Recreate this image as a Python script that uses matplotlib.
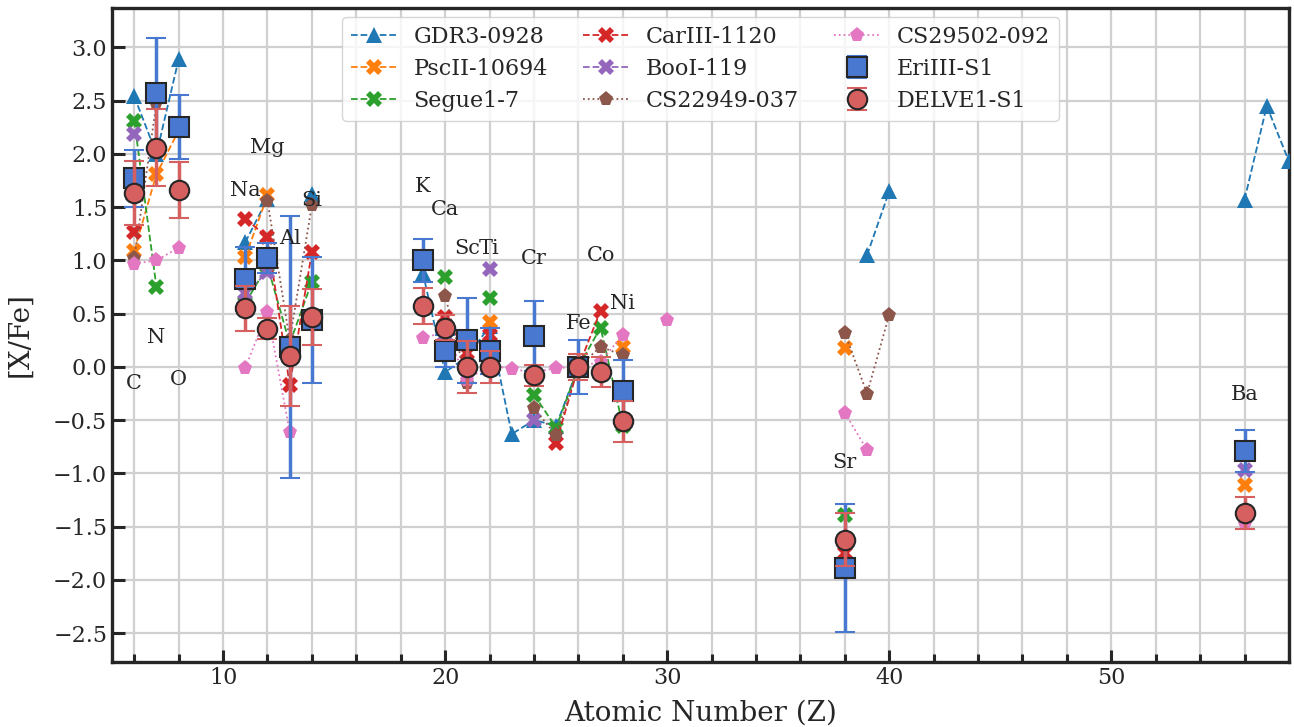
import numpy as np
import matplotlib
matplotlib.use("Agg")
import matplotlib.pyplot as plt
from matplotlib.ticker import MultipleLocator

nan = np.nan

# elements and atomic numbers
elements = ['C', 'N', 'O', 'Na', 'Mg', 'Al', 'Si', 'K', 'Ca', 'Sc', 'Ti', 'V', 'Cr', 'Mn', 'Fe', 'Co', 'Ni', 'Zn', 'Sr', 'Y', 'Zr', 'Ba', 'La', 'Ce']
atomic_z = [6, 7, 8, 11, 12, 13, 14, 19, 20, 21, 22, 23, 24, 25, 26, 27, 28, 30, 38, 39, 40, 56, 57, 58]

# [X/Fe] of the comparison stars (nan = not measured)
gdr3_0928 = [2.54, 2.00, 2.89, 1.17, 1.58, nan, 1.62, 0.88, -0.05, 0.10, 0.38, -0.63, -0.50, -0.55, 0.00, nan, nan, nan, nan, 1.05, 1.65, 1.57, 2.45, 1.93]
pscii_10694 = [1.09, 1.81, 2.22, 1.03, 1.61, nan, nan, nan, nan, nan, 0.42, nan, nan, nan, nan, nan, 0.19, nan, 0.18, nan, nan, -1.11, nan, nan]
segue1_7 = [2.31, 0.75, nan, 0.60, 0.95, 0.22, 0.80, nan, 0.84, nan, 0.65, nan, -0.26, -0.57, 0.00, 0.37, -0.55, nan, -1.39, nan, nan, nan, nan, nan]
cariii_1120 = [1.27, nan, nan, 1.39, 1.22, -0.17, 1.08, nan, 0.47, 0.13, 0.30, nan, nan, -0.71, 0.00, 0.53, nan, nan, -1.75, nan, nan, nan, nan, nan]
booi_119 = [2.19, nan, nan, 0.69, 0.89, nan, nan, nan, 0.30, nan, 0.92, nan, -0.50, nan, nan, nan, nan, nan, nan, nan, nan, -0.97, nan, nan]
cs22949_037 = [1.02, 2.48, nan, nan, 1.56, 0.25, 1.52, nan, 0.67, -0.15, nan, nan, -0.39, -0.64, 0.00, 0.19, 0.11, nan, 0.32, -0.25, 0.49, nan, nan, nan]
cs29502_092 = [0.97, 1.00, 1.12, -0.01, 0.52, -0.61, nan, 0.27, 0.33, -0.12, 0.02, -0.02, -0.05, -0.01, 0.00, 0.05, 0.30, 0.44, -0.43, -0.78, nan, -1.47, nan, nan]

# program stars with uncertainties
eriiii_s1 = [1.77, 2.57, 2.25, 0.83, 1.02, 0.19, 0.44, 1.00, 0.15, 0.25, 0.15, nan, 0.29, nan, 0.00, nan, -0.23, nan, -1.89, nan, nan, -0.79, nan, nan]
eriiii_s1_err = [0.27, 0.52, 0.30, 0.30, 0.14, 1.23, 0.59, 0.20, 0.15, 0.40, 0.22, nan, 0.33, nan, 0.25, nan, 0.30, nan, 0.60, nan, nan, 0.20, nan, nan]
delve1_s1 = [1.63, 2.06, 1.66, 0.55, 0.36, 0.10, 0.47, 0.57, 0.37, 0.00, 0.00, nan, -0.08, nan, 0.00, -0.05, -0.51, nan, -1.62, nan, nan, -1.37, nan, nan]
delve1_s1_err = [0.30, 0.36, 0.26, 0.21, 0.10, 0.47, 0.26, 0.17, 0.12, 0.24, 0.15, nan, 0.10, nan, 0.12, 0.14, 0.19, nan, 0.25, nan, nan, 0.15, nan, nan]

# element labels (only some are written on the plot)
label_names = ['C', 'N', 'O', 'Na', 'Mg', 'Al', 'Si', 'K', 'Ca', 'Sc', 'Ti', 'Cr', 'Fe', 'Co', 'Ni', 'Sr', 'Ba']
label_z = [6, 7, 8, 11, 12, 13, 14, 19, 20, 21, 22, 24, 26, 27, 28, 38, 56]
label_y = [-0.16, 0.28, -0.12, 1.66, 2.06, 1.21, 1.56, 1.69, 1.48, 1.11, 1.11, 1.02, 0.41, 1.05, 0.60, -0.90, -0.26]

plt.rcParams['font.family'] = ['DejaVu Serif']
plt.rcParams['text.color'] = '#262626'
plt.rcParams['axes.labelcolor'] = '#262626'
plt.rcParams['xtick.color'] = '#262626'
plt.rcParams['ytick.color'] = '#262626'

# full Z grid so that lines break where an element is missing
z_full = np.arange(6, 59)


def on_grid(vals):
    out = np.full(z_full.shape, np.nan)
    for z, v in zip(atomic_z, vals):
        out[z - 6] = v
    return out


fig, ax = plt.subplots(figsize=(12.94, 7.27), dpi=100)
fig.subplots_adjust(left=0.0866, right=0.9961, top=0.989, bottom=0.0894)

comp = [
    (gdr3_0928, 'GDR3-0928', '#1f77b4', '^', '--'),
    (pscii_10694, 'PscII-10694', '#ff7f0e', 'X', '--'),
    (segue1_7, 'Segue1-7', '#2ca02c', 'X', '--'),
    (cariii_1120, 'CarIII-1120', '#d62728', 'X', '--'),
    (booi_119, 'BooI-119', '#9467bd', 'X', '--'),
    (cs22949_037, 'CS22949-037', '#8c564b', 'p', ':'),
    (cs29502_092, 'CS29502-092', '#e377c2', 'p', ':'),
]
for vals, name, col, mk, ls in comp:
    ax.plot(z_full, on_grid(vals), ls=ls, lw=1.3, color=col, marker=mk,
            markersize=11, markeredgewidth=0, label=name, zorder=3)

ax.errorbar(atomic_z, eriiii_s1, yerr=eriiii_s1_err, fmt='s', color='#4878d0',
            markersize=14, markeredgecolor='#262626', markeredgewidth=1.5,
            ecolor='#4878d0', elinewidth=2.5, capsize=7, capthick=2,
            label='EriIII-S1', zorder=4)
ax.errorbar(atomic_z, delve1_s1, yerr=delve1_s1_err, fmt='o', color='#d65f5f',
            markersize=14, markeredgecolor='#262626', markeredgewidth=1.5,
            ecolor='#d65f5f', elinewidth=2.5, capsize=7, capthick=2,
            label='DELVE1-S1', zorder=5)

for nm, z, y in zip(label_names, label_z, label_y):
    ax.text(z, y, nm, ha='center', va='center', fontsize=15, zorder=6)

ax.set_xlim(5, 58)
ax.set_ylim(-2.77, 3.37)
ax.xaxis.set_major_locator(MultipleLocator(10))
ax.xaxis.set_minor_locator(MultipleLocator(2))
ax.yaxis.set_major_locator(MultipleLocator(0.5))
ax.grid(True, which='major', color='#d0d0d0', lw=1.6, zorder=0)
ax.grid(True, which='minor', axis='x', color='#d0d0d0', lw=1.6, zorder=0)
ax.set_axisbelow(True)
ax.tick_params(which='major', direction='in', length=9, width=2.2, labelsize=16)
ax.tick_params(which='minor', direction='in', length=6, width=2.2)
for sp in ax.spines.values():
    sp.set_linewidth(2.4)
    sp.set_color('#262626')

ax.set_xlabel('Atomic Number (Z)', fontsize=20, labelpad=8)
ax.set_ylabel('[X/Fe]', fontsize=20, labelpad=14)

ax.legend(loc='upper center', ncol=3, fontsize=16, borderaxespad=0.4,
          handlelength=2, columnspacing=1.6, labelspacing=0.45, edgecolor='#cccccc')

plt.savefig('out.png', dpi=100)
